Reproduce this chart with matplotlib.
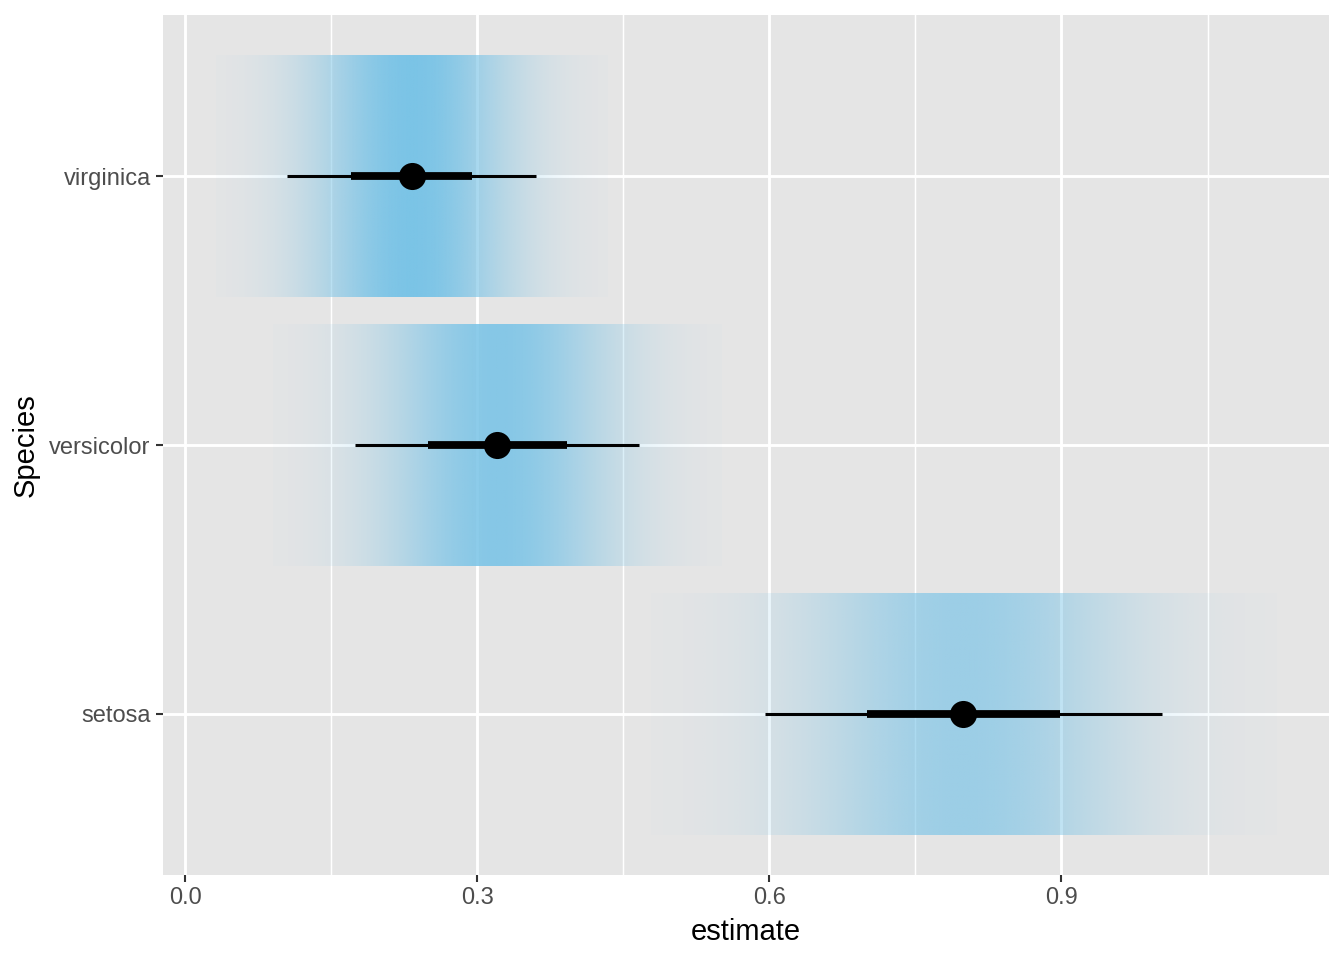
import numpy as np
import matplotlib
matplotlib.use("Agg")
import matplotlib.pyplot as plt
from matplotlib.ticker import FixedLocator

plt.rcParams["font.family"] = ["Liberation Sans", "DejaVu Sans"]

# ---- data ----
species = ["setosa", "versicolor", "virginica"]
median = [0.7992, 0.3202, 0.2325]
lower95 = [0.5955, 0.1744, 0.1048]
upper95 = [1.0029, 0.4664, 0.3599]
lower66 = [0.7000, 0.2490, 0.1702]
upper66 = [0.8984, 0.3918, 0.2948]
x_ticks = [0.0, 0.3, 0.6, 0.9]
x_tick_labels = ["0.0", "0.3", "0.6", "0.9"]
x_minor = [0.15, 0.45, 0.75, 1.05]

slab_rgb = np.array([123, 196, 231]) / 255.0
bg = "#E5E5E5"

fig = plt.figure(figsize=(13.44, 9.6), dpi=100)
ax = fig.add_axes([163 / 1344, 85 / 960, (1329 - 163) / 1344, (875 - 15) / 960])
ax.set_facecolor(bg)

# normal distributions implied by the intervals
sds = [(u - l) / (2 * 1.959964) for l, u in zip(lower95, upper95)]
z999 = 3.090232
fmax = max(1.0 / (s * np.sqrt(2 * np.pi)) for s in sds)

for i, (m, s) in enumerate(zip(median, sds)):
    lo, hi = m - z999 * s, m + z999 * s
    xs = np.linspace(lo, hi, 501)
    f = np.exp(-0.5 * ((xs - m) / s) ** 2) / (s * np.sqrt(2 * np.pi))
    alpha = (f / fmax) ** 0.8
    img = np.zeros((1, len(xs), 4))
    img[0, :, :3] = slab_rgb
    img[0, :, 3] = alpha
    ax.imshow(img, extent=[lo, hi, i - 0.45, i + 0.45], aspect="auto",
              interpolation="bilinear", zorder=2)
    ax.plot([lower95[i], upper95[i]], [i, i], color="black", lw=2.2,
            solid_capstyle="butt", zorder=3)
    ax.plot([lower66[i], upper66[i]], [i, i], color="black", lw=5.6,
            solid_capstyle="butt", zorder=4)
    ax.plot([m], [i], "o", color="black", ms=19.5, mew=0, zorder=5)

ax.set_xlim(-0.0229, 1.1748)
ax.set_ylim(-0.6, 2.6)

ax.set_xticks(x_ticks)
ax.set_xticklabels(x_tick_labels)
ax.xaxis.set_minor_locator(FixedLocator(x_minor))
ax.set_yticks(range(len(species)))
ax.set_yticklabels(species)

ax.set_axisbelow(True)
ax.grid(which="major", color="white", lw=2.1, zorder=0)
ax.grid(which="minor", axis="x", color="white", lw=1.05, zorder=0)

for sp in ax.spines.values():
    sp.set_visible(False)

ax.tick_params(axis="both", which="major", length=5.3, width=1.5,
               color="#333333", labelcolor="#4D4D4D", labelsize=17, pad=3.5)
ax.tick_params(axis="x", which="minor", length=0)

ax.set_xlabel("estimate", fontsize=21, color="black", labelpad=6)
ax.set_ylabel("Species", fontsize=21, color="black", labelpad=7)

fig.savefig("out.png", dpi=100, facecolor="white")
